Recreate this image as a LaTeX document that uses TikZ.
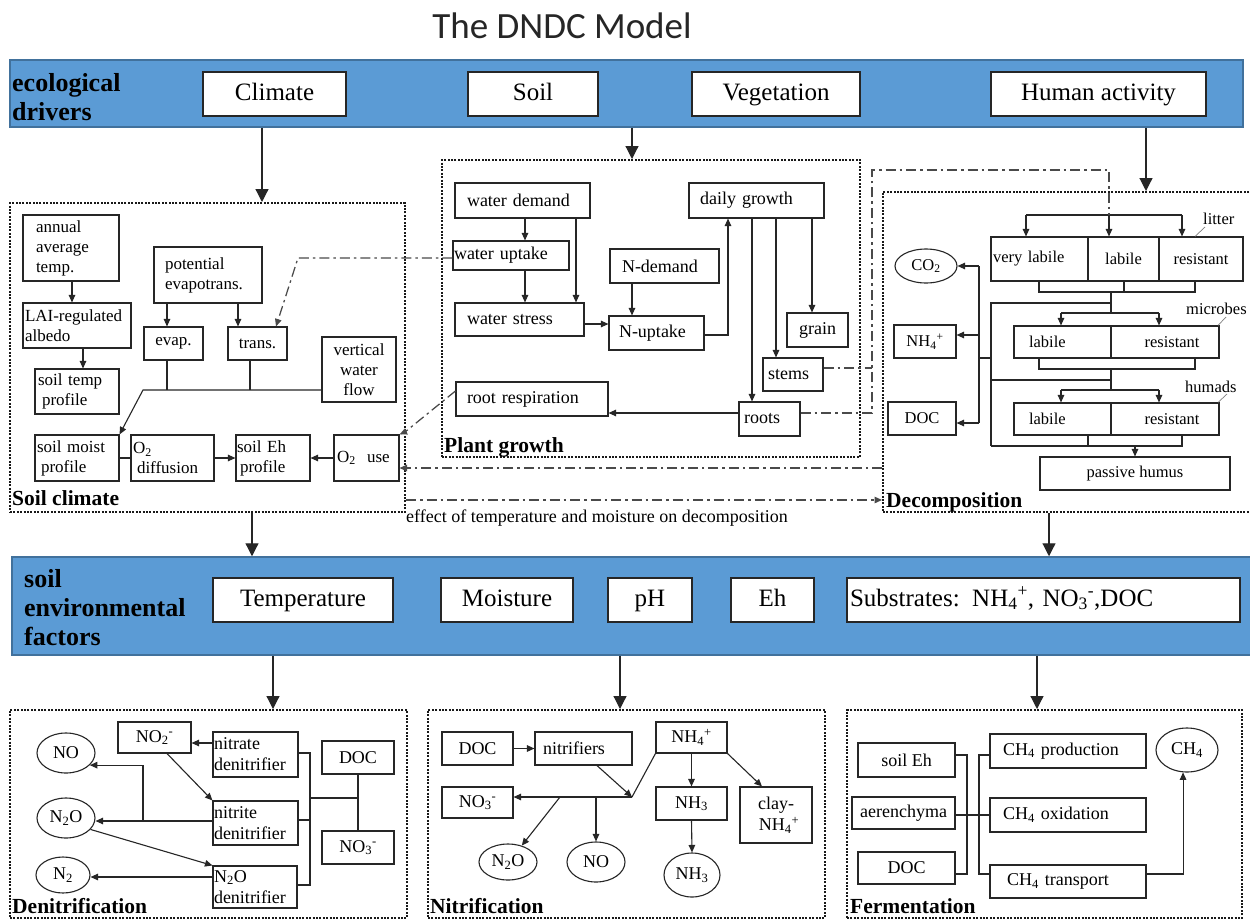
\documentclass[tikz,border=0pt]{standalone}
\usepackage{fontspec}
\setmainfont{Liberation Serif}
\newfontfamily\titlefont{Carlito}
\usetikzlibrary{arrows.meta,shapes.geometric}
\definecolor{bandblue}{HTML}{5B9BD5}
\definecolor{bandedge}{HTML}{41719C}
\definecolor{ddgray}{HTML}{4A4A4A}
\newcommand{\tsb}[1]{\textsubscript{#1}}
\newcommand{\tsp}[1]{\textsuperscript{#1}}
\newcommand{\bx}[7][]{%
  \pgfmathsetmacro\bxw{#5-#3}\pgfmathsetmacro\bxh{#6-#4}%
  \pgfmathsetmacro\bxcx{(#3+#5)/2}\pgfmathsetmacro\bxcy{(#4+#6)/2}%
  \node[bx,minimum width=\bxw pt,minimum height=\bxh pt,#1] (#2) at (\bxcx,\bxcy) {#7};}
\begin{document}
\begin{tikzpicture}[x=1pt,y=-1pt,
  bx/.style={draw=black!85,line width=1.1pt,fill=white,inner sep=2pt,align=center},
  lft/.style={inner xsep=#1,text width={\bxw pt-2*#1},align=left},
  grp/.style={draw=black!90,line width=2pt,dash pattern=on 2pt off 1.4pt,inner sep=0pt,fill=none},
  bandbox/.style={draw=bandedge,line width=1.5pt,fill=bandblue,inner sep=0pt},
  ell/.style={draw=black!85,line width=1.1pt,ellipse,inner sep=0pt,fill=white},
  ln/.style={draw=black!85,line width=1.1pt},
  arr/.style={ln,-{Triangle[length=7.5pt,width=6.5pt]}},
  bigarr/.style={ln,line width=1.2pt,-{Triangle[length=13pt,width=13pt]}},
  dd/.style={draw=ddgray,line width=1.25pt,dash pattern=on 10pt off 4pt on 2.5pt off 4pt},
  ddarr/.style={dd,-{Triangle[length=7.5pt,width=6.5pt]}},
  lab/.style={font=\fontsize{21.5}{24}\selectfont\bfseries,inner sep=0pt,anchor=base west},
  leader/.style={draw=gray,line width=0.7pt},
  tb/.style={font=\fontsize{25}{28}\selectfont,text height=17pt,text depth=5pt},
  sc/.style={font=\fontsize{17}{20}\selectfont},
  pg/.style={font=\fontsize{18}{21}\selectfont},
  dc/.style={font=\fontsize{16.5}{19}\selectfont},
  bt/.style={font=\fontsize{18}{21}\selectfont},
  bandlab/.style={font=\fontsize{26}{29}\selectfont\bfseries,align=left,anchor=west,inner sep=0pt}
]
\useasboundingbox (0,0) rectangle (1250,921);
\fill[white] (0,0) rectangle (1250,921);

% ---------- title ----------
\node[font=\titlefont\fontsize{37}{40}\selectfont,anchor=base,text=black!85] (title) at (562,38) {The DNDC Model};

% ---------- bands ----------
\bx[bandbox]{band1}{10}{60}{1243}{127}{}
\node[bandlab] (edlab) at (12,97) {ecological\\drivers};
\bx[tb]{climate}{203}{72}{346}{116}{Climate}
\bx[tb]{soil}{468}{72}{598}{116}{Soil}
\bx[tb]{veg}{692}{72}{860}{116}{Vegetation}
\bx[tb]{human}{991}{72}{1206}{116}{Human activity}

\bx[bandbox]{band2}{12}{557}{1252}{655}{}
\node[bandlab] (sefLab) at (24,608) {soil\\environmental\\factors};
\bx[tb]{temp}{213}{578}{393}{622}{Temperature}
\bx[tb]{moist}{441}{578}{573}{622}{Moisture}
\bx[tb]{ph}{608}{578}{692}{622}{pH}
\bx[tb]{eh}{731}{578}{814}{622}{Eh}
\bx[tb,lft=3pt]{subst}{847}{578}{1240}{622}{Substrates: NH\tsb{4}\tsp{+}, NO\tsb{3}\tsp{-},DOC}

% ---------- group boxes ----------
\bx[grp]{soilclim}{10}{203}{405}{512}{}
\bx[grp]{plantg}{442}{160}{860}{457}{}
\bx[grp]{decomp}{883}{192}{1258}{512}{}
\bx[grp]{denit}{10}{710}{407}{918}{}
\bx[grp]{nitrif}{428}{710}{825}{918}{}
\bx[grp]{ferm}{847}{710}{1242}{918}{}

\node[lab] (sclab) at (12,505) {Soil climate};
\node[lab] (pglab) at (444,452) {Plant growth};
\node[lab] (dclab) at (886,507) {Decomposition};
\node[lab] (dnlab) at (12,913) {Denitrification};
\node[lab] (nilab) at (430,913) {Nitrification};
\node[lab] (felab) at (850,913) {Fermentation};

% ---------- band arrows ----------
\draw[bigarr] (band1.south -| 262,0) -- (soilclim.north -| 262,0);
\draw[bigarr] (band1.south -| 632,0) -- (plantg.north -| 632,0);
\draw[bigarr] (band1.south -| 1146,0) -- (decomp.north -| 1146,0);
\draw[bigarr] (soilclim.south -| 252,0) -- (band2.north -| 252,0);
\draw[bigarr] (decomp.south -| 1049,0) -- (band2.north -| 1049,0);
\draw[bigarr] (band2.south -| 273,0) -- (denit.north -| 273,0);
\draw[bigarr] (band2.south -| 620,0) -- (nitrif.north -| 620,0);
\draw[bigarr] (band2.south -| 1037,0) -- (ferm.north -| 1037,0);

% ---------- soil climate ----------
\bx[sc,lft=13pt]{annual}{23}{215}{119}{281}{annual\\average\\temp.}
\bx[sc,lft=2pt]{lai}{23}{303}{131}{348}{LAI-regulated\\albedo}
\bx[sc,lft=3pt]{soiltemp}{35}{369}{119}{414}{soil temp\\\hspace*{4pt}profile}
\bx[sc,lft=11pt]{pet}{154}{247}{262}{303}{potential\\evapotrans.}
\bx[sc]{evap}{144}{327}{203}{360}{evap.}
\bx[sc]{trans}{228}{327}{287}{360}{trans.}
\bx[sc]{vwf}{322}{337}{396}{402}{vertical\\water\\flow}
\bx[sc,lft=2pt]{soilmoist}{35}{435}{119}{481}{soil moist\\\hspace*{4pt}profile}
\bx[sc,lft=2pt]{o2diff}{131}{435}{214}{481}{O\tsb{2}\\\hspace*{4pt}diffusion}
\bx[sc,lft=1pt]{soileh}{236}{435}{310}{481}{soil Eh\\\hspace*{3pt}profile}
\bx[sc,lft=3pt]{o2use}{334}{435}{399}{481}{O\tsb{2}\ \ use}

\draw[arr] (annual.south -| 72,0) -- (lai.north -| 72,0);
\draw[arr] (lai.south -| 83,0) -- (soiltemp.north -| 83,0);
\draw[arr] (pet.south -| 167,0) -- (evap.north -| 167,0);
\draw[arr] (pet.south -| 238,0) -- (trans.north -| 238,0);
\draw[ln] (evap.south -| 167,0) -- (167,390);
\draw[ln] (trans.south -| 250,0) -- (250,390);
\draw[arr] (vwf.west |- 0,390) -- (143,390) -- (soilmoist.north east);
\draw[ln] (soilmoist.east) -- (o2diff.west);
\draw[arr] (o2diff.east) -- (soileh.west);
\draw[arr] (o2use.west) -- (soileh.east);

% ---------- plant growth ----------
\bx[pg,lft=12pt]{wdem}{455}{183}{590}{218}{water demand}
\bx[pg,lft=1pt]{wup}{453}{241}{569}{270}{water uptake}
\bx[pg,lft=12pt]{wstress}{455}{303}{584}{336}{water stress}
\bx[pg,lft=12pt]{ndem}{610}{249}{719}{283}{N-demand}
\bx[pg,lft=10pt]{nup}{609}{316}{704}{350}{N-uptake}
\bx[pg,lft=11pt]{dgrowth}{689}{183}{824}{218}{daily growth}
\bx[pg]{grain}{787}{313}{848}{347}{grain}
\bx[pg,lft=5pt]{stems}{763}{358}{823}{391}{stems}
\bx[pg,lft=5pt]{roots}{739}{402}{800}{436}{roots}
\bx[pg,lft=11pt]{rootresp}{456}{382}{608}{416}{root respiration}

\draw[arr] (wdem.south -| 525,0) -- (wup.north -| 525,0);
\draw[arr] (wdem.south -| 576,0) -- (wstress.north -| 576,0);
\draw[arr] (wup.south -| 525,0) -- (wstress.north -| 525,0);
\draw[arr] (wstress.east |- 0,324) -- (nup.west |- 0,324);
\draw[arr] (ndem.south -| 632,0) -- (nup.north -| 632,0);
\draw[arr] (nup.east |- 0,335) -| (dgrowth.south -| 728,0);
\draw[arr] (dgrowth.south -| 752,0) -- (roots.north -| 752,0);
\draw[arr] (dgrowth.south -| 776,0) -- (stems.north -| 776,0);
\draw[arr] (dgrowth.south -| 812,0) -- (grain.north -| 812,0);
\draw[arr] (roots.west |- 0,413) -- (rootresp.east |- 0,413);

% ---------- decomposition ----------
\bx[dc,lft=2pt]{vl}{991}{237}{1088}{281}{very labile}
\bx[dc]{ll}{1088}{237}{1159}{281}{labile}
\bx[dc]{lr}{1159}{237}{1243}{281}{resistant}
\bx[dc,lft=15pt]{ml}{1014}{326}{1111}{358}{labile}
\bx[dc]{mr}{1111}{326}{1219}{358}{\hspace*{14pt}resistant}
\bx[dc,lft=15pt]{hl}{1014}{403}{1111}{435}{labile}
\bx[dc]{hr}{1111}{403}{1219}{435}{\hspace*{14pt}resistant}
\bx[dc]{phum}{1040}{457}{1230}{490}{passive humus}
\node[ell,dc,minimum width=62pt,minimum height=34pt] (co2) at (926,266) {CO\tsb{2}};
\bx[dc]{nh4}{894}{325}{956}{358}{NH\tsb{4}\tsp{+}}
\bx[dc]{doc}{888}{402}{956}{435}{DOC}

\node[dc,anchor=west,inner sep=0pt] (litlab) at (1203,219) {litter};
\node[dc,anchor=west,inner sep=0pt] (miclab) at (1186,309) {microbes};
\node[dc,anchor=west,inner sep=0pt] (humlab) at (1185,387) {humads};
\draw[leader] (lr.north -| 1195,0) -- (1205,227);
\draw[leader] (mr.north -| 1218,0) -- (1226,317);
\draw[leader] (hr.north -| 1218,0) -- (1227,394);

\draw[ln] (1026,215) -- (1182,215);
\draw[arr] (1026,215) -- (vl.north -| 1026,0);
\draw[arr] (1182,215) -- (lr.north -| 1182,0);
\draw[arr] (1109,215) -- (ll.north -| 1109,0);
\draw[ln] (vl.south -| 1039,0) -- (1039,292) -- (1195,292) -- (lr.south -| 1195,0);
\draw[ln] (ll.south -| 1124,0) -- (1124,292);
\draw[ln] (1111,292) -- (1111,313);
\draw[ln] (1111,303) -- (991,303) -- (991,446);
\draw[ln] (1061,313) -- (1159,313);
\draw[arr] (1061,313) -- (ml.north -| 1061,0);
\draw[arr] (1159,313) -- (mr.north -| 1159,0);
\draw[ln] (ml.south -| 1039,0) -- (1039,369) -- (1195,369) -- (mr.south -| 1195,0);
\draw[ln] (1111,369) -- (1111,390);
\draw[ln] (1111,380) -- (991,380);
\draw[ln] (1061,390) -- (1159,390);
\draw[arr] (1061,390) -- (hl.north -| 1061,0);
\draw[arr] (1159,390) -- (hr.north -| 1159,0);
\draw[ln] (hl.south -| 1088,0) -- (1088,446);
\draw[ln] (hr.south -| 1182,0) -- (1182,446) -- (991,446);
\draw[arr] (1135,446) -- (phum.north -| 1135,0);
\draw[ln] (991,358) -- (979,358);
\draw[ln] (979,266) -- (979,423);
\draw[arr] (979,266) -- (co2.east);
\draw[arr] (979,335) -- (nh4.east |- 0,335);
\draw[arr] (979,423) -- (doc.east |- 0,423);

% ---------- dash-dot connectors ----------
\draw[ddarr] (wup.west |- 0,258) -- (298,258) -- (trans.north -| 276,0);
\draw[ddarr] ([yshift=8pt]rootresp.west) -- (405,432) -- (o2use.north east);
\draw[ddarr] (decomp.west |- 0,468) -- (o2use.east |- 0,468);
\draw[ddarr] (soilclim.east |- 0,500) -- (decomp.west |- 0,500);
\node[font=\fontsize{18}{20}\selectfont,anchor=west,inner sep=0pt] (efflab) at (406,518) {effect of temperature and moisture on decomposition};
\draw[dd] (stems.east |- 0,368) -- (872,368);
\draw[dd] (roots.east |- 0,413) -- (872,413) -- (872,170) -- (1109,170) -- (1109,215);

% ---------- denitrification ----------
\node[ell,bt,minimum width=58pt,minimum height=40pt] (dno) at (66,753) {NO};
\node[ell,bt,minimum width=58pt,minimum height=40pt] (dn2o) at (66,818) {N\tsb{2}O};
\node[ell,bt,minimum width=54pt,minimum height=36pt] (dn2) at (63,875) {N\tsb{2}};
\bx[bt]{no2}{118}{722}{191}{753}{NO\tsb{2}\tsp{-}}
\bx[bt,lft=1pt]{natd}{213}{732}{298}{777}{nitrate\\denitrifier}
\bx[bt,lft=1pt]{nitd}{213}{801}{298}{845}{nitrite\\denitrifier}
\bx[bt,lft=1pt]{n2od}{213}{866}{297}{908}{N\tsb{2}O\\denitrifier}
\bx[bt]{ddoc}{322}{741}{394}{774}{DOC}
\bx[bt]{dno3}{322}{831}{394}{864}{NO\tsb{3}\tsp{-}}

\draw[arr] (natd.west |- 0,743) -- (no2.east |- 0,743);
\draw[arr] (no2.south -| 167,0) -- (nitd.north west);
\draw[arr] (nitd.west |- 0,821) -- (dn2o.east |- 0,821);
\draw[arr] (143,821) |- (dno.-27);
\draw[arr] (dn2o.-25) -- (n2od.north west);
\draw[arr] (n2od.west |- 0,877) -- (dn2.east |- 0,877);
\draw[ln] (natd.east |- 0,753) -| (310,885) -- (n2od.east |- 0,885);
\draw[ln] (nitd.east |- 0,820) -- (310,820);
\draw[ln] (310,798) -- (358,798);
\draw[ln] (ddoc.south) -- (dno3.north);

% ---------- nitrification ----------
\bx[bt]{ndoc}{442}{732}{513}{765}{DOC}
\bx[bt,lft=8pt]{nitr}{535}{732}{632}{765}{nitrifiers}
\bx[bt]{nnh4}{656}{722}{727}{753}{NH\tsb{4}\tsp{+}}
\bx[bt]{nno3}{442}{787}{513}{818}{NO\tsb{3}\tsp{-}}
\bx[bt]{nnh3}{656}{787}{727}{820}{NH\tsb{3}}
\bx[bt]{clay}{740}{787}{812}{843}{clay-\\\hspace*{6pt}NH\tsb{4}\tsp{+}}
\node[ell,bt,minimum width=58pt,minimum height=36pt] (nn2o) at (508,862) {N\tsb{2}O};
\node[ell,bt,minimum width=58pt,minimum height=40pt] (nno) at (596,862) {NO};
\node[ell,bt,minimum width=56pt,minimum height=44pt] (nnh3e) at (692,875) {NH\tsb{3}};
\coordinate (nj) at (632,797);

\draw[arr] (ndoc.east) -- (nitr.west);
\draw[arr] (nitr.south -| 597,0) -- (nj);
\draw[ln] (nnh4.south west) -- (nj);
\draw[arr] (nj) -- (nno3.east |- nj);
\draw[arr] (560,797) -- (nn2o.50);
\draw[arr] (nno.north |- nj) -- (nno.north);
\draw[arr] (nnh4.south) -- (nnh3.north);
\draw[arr] (nnh4.south east) -- (clay.north -| 762,0);
\draw[arr] (nnh3.south) -- (nnh3e.north);

% ---------- fermentation ----------
\bx[bt]{feh}{858}{743}{955}{777}{soil Eh}
\bx[bt]{faer}{852}{797}{955}{829}{aerenchyma}
\bx[bt]{fdoc}{858}{852}{955}{884}{DOC}
\bx[bt,lft=13pt]{cprod}{990}{734}{1146}{768}{CH\tsb{4} production}
\bx[bt,lft=13pt]{cox}{990}{798}{1146}{832}{CH\tsb{4} oxidation}
\bx[bt,lft=17pt]{ctr}{990}{865}{1146}{898}{CH\tsb{4} transport}
\node[ell,bt,minimum width=62pt,minimum height=44pt] (ch4) at (1187,750) {CH\tsb{4}};

\draw[ln] (feh.east |- 0,755) -| (967,874) -- (fdoc.east |- 0,874);
\draw[ln] (faer.east |- 0,815) -- (cox.west |- 0,815);
\draw[ln] (cprod.west |- 0,755) -| (979,874) -- (ctr.west |- 0,874);
\draw[arr] (ctr.east |- 0,874) -| (ch4.-100);
\end{tikzpicture}
\end{document}
